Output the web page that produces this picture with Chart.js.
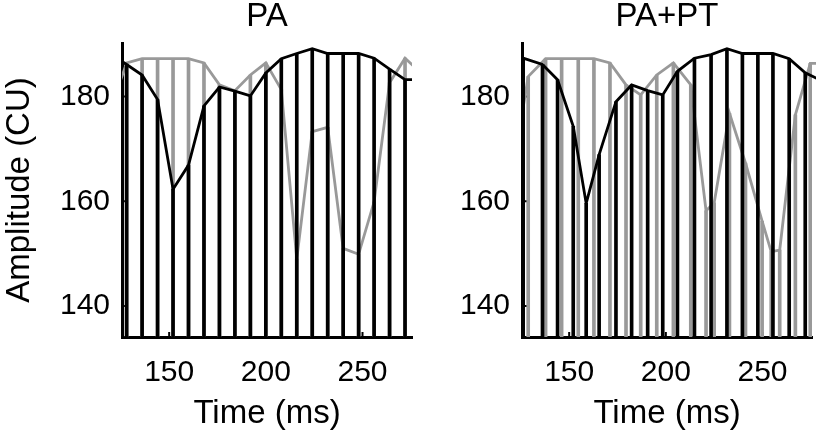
<!DOCTYPE html>
<html><head><meta charset="utf-8">
<script src="https://cdn.jsdelivr.net/npm/chart.js@4/dist/chart.umd.min.js"></script>
<style>
html,body{margin:0;padding:0;background:#fff;}
#wrap{position:relative;width:816px;height:446px;overflow:hidden;background:#fff;}
canvas{position:absolute;top:0;}
</style></head><body>
<div id="wrap">
<canvas id="c1" width="420" height="446" style="left:0;width:420px;height:446px"></canvas>
<canvas id="c2" width="396" height="446" style="left:420px;width:396px;height:446px"></canvas>
</div>
<script>
const FONT = '"Liberation Sans", Arial, Helvetica, sans-serif';
const panelTitles = ['PA', 'PA+PT'];
const xTicks = [150, 200, 250];
const yTicks = [140, 160, 180];
const xMin = 125.6, xMax = 275.6, yMin = 134.1, yMax = 190.2;

// PA panel: black and gray share the same time points
const paTime  = [120,128,136,144,152,160,168,176,184,192,200,208,216,224,232,240,248,256,264,272,280];
const paBlack = [188,186.1,184.1,179.4,162.3,166.9,178.2,181.8,181.0,180.1,184.5,187.2,188.2,189.1,188.2,188.2,188.2,187.3,185.2,183.2,183.2];
const paGray  = [178,186.4,187.2,187.2,187.2,187.2,186.4,182.2,181.1,184.1,186.4,181.3,149.0,173.3,174.1,151.0,149.9,159.9,182.6,187.3,184.6];

// PA+PT panel
const ptBlackTime = [126.2,136.2,144.0,152.1,158.8,165.5,174.2,182.3,190.6,198.4,206.0,214.8,223.4,231.6,239.6,247.6,255.4,263.8,272.1,280];
const ptBlack     = [187.3,186.1,183.2,174.3,159.6,168.9,179.0,182.2,181.1,180.3,184.8,187.3,188.0,189.1,188.2,188.2,188.2,187.2,184.5,183.1];
const ptGrayTime  = [120.5,128.8,137.8,146.1,154.7,162.8,171.1,179.4,187.0,195.3,203.9,212.9,220.8,225.0,232.9,241.2,249.8,254.5,258.9,267.0,274.7,283];
const ptGray      = [165,183.8,187.2,187.2,187.2,187.2,186.4,182.2,180.3,184.1,186.4,182.2,158.2,159.7,176.8,167.3,156.2,150.4,150.7,176.5,186.3,186.3];

const BLACK = '#000000', GRAY = '#999999';

function pts(t, v) { return t.map((x, i) => ({x: x, y: v[i]})); }

const innerTicks = {
  id: 'innerTicks',
  beforeDatasetsDraw(chart) {
    const {ctx, chartArea: a, scales: {x, y}} = chart;
    ctx.save();
    ctx.strokeStyle = '#000'; ctx.lineWidth = 2;
    ctx.beginPath();
    yTicks.forEach(v => { const p = y.getPixelForValue(v); ctx.moveTo(a.left, p); ctx.lineTo(a.left + 5, p); });
    xTicks.forEach(v => { const p = x.getPixelForValue(v); ctx.moveTo(p, a.bottom); ctx.lineTo(p, a.bottom - 5); });
    ctx.stroke();
    ctx.restore();
  }
};

function makeChart(id, title, t1, black, t2, gray, o) {
  const lineClip = {left: 0, top: 4, right: o.clipRight, bottom: 0};
  const bar = (data, color, order) => ({
    type: 'bar', data: data, backgroundColor: color, borderWidth: 0,
    barThickness: 3, maxBarThickness: 3, grouped: false, base: yMin - 1, order: order
  });
  const line = (data, color, order) => ({
    type: 'line', data: data, borderColor: color, borderWidth: 2.8, pointRadius: 0,
    tension: 0, fill: false, order: order, clip: lineClip, borderJoinStyle: 'miter'
  });
  return new Chart(document.getElementById(id), {
    type: 'line',
    data: { datasets: [
      line(pts(t1, black), BLACK, 0),
      bar(pts(t1, black), BLACK, 1),
      line(pts(t2, gray), GRAY, 2),
      bar(pts(t2, gray), GRAY, 3)
    ]},
    options: {
      responsive: false, animation: false, events: [],
      layout: { padding: { left: 0, right: o.padRight, top: 0, bottom: 0 } },
      plugins: {
        legend: { display: false }, tooltip: { enabled: false },
        title: { display: true, text: title, fullSize: false, color: '#000',
          font: { family: FONT, size: 33, weight: 'normal', lineHeight: 1.0 },
          padding: { top: 0, bottom: 10 } }
      },
      scales: {
        x: {
          type: 'linear', min: xMin, max: xMax, offset: false,
          grid: { display: false, drawTicks: false },
          border: { display: true, color: '#000', width: 3 },
          afterBuildTicks: s => { s.ticks = xTicks.map(v => ({value: v})); },
          afterFit: s => { s.height = 109; },
          ticks: { font: { family: FONT, size: 30 }, color: '#000', padding: 18, maxRotation: 0, autoSkip: false },
          title: { display: true, text: 'Time (ms)', color: '#000',
            font: { family: FONT, size: 33 }, padding: { top: 0, bottom: 12 } }
        },
        y: {
          type: 'linear', min: yMin, max: yMax,
          grid: { display: false, drawTicks: false },
          border: { display: true, color: '#000', width: 3 },
          afterBuildTicks: s => { s.ticks = yTicks.map(v => ({value: v})); },
          afterFit: s => { s.width = o.yWidth; },
          ticks: { font: { family: FONT, size: 30 }, color: '#000', padding: 12, autoSkip: false },
          title: { display: o.yTitle, text: 'Amplitude (CU)', color: '#000',
            font: { family: FONT, size: 33 }, padding: { top: 0, bottom: 0 } }
        }
      }
    },
    plugins: [innerTicks]
  });
}

makeChart('c1', panelTitles[0], paTime, paBlack, paTime, paGray, {yWidth: 122, padRight: 8, yTitle: true, clipRight: 0});
makeChart('c2', panelTitles[1], ptBlackTime, ptBlack, ptGrayTime, ptGray, {yWidth: 102, padRight: 4, yTitle: false, clipRight: 4});
</script>
</body></html>
